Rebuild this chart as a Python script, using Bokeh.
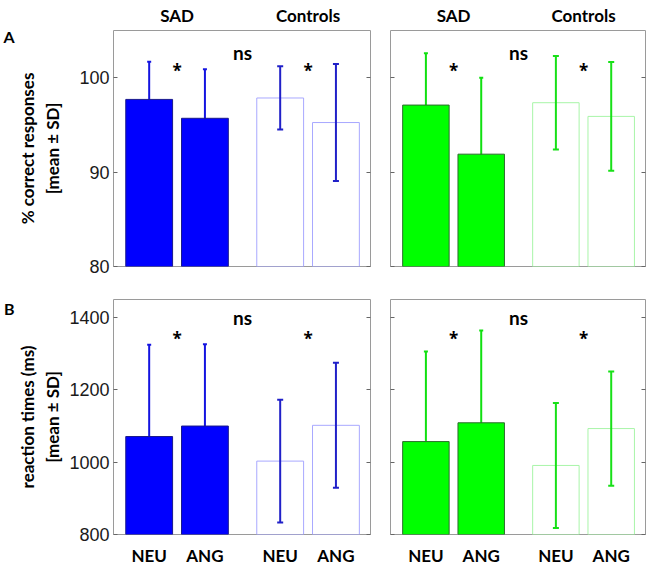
from bokeh.plotting import figure
from bokeh.models import Range1d, FixedTicker, LinearAxis, Label, Whisker, ColumnDataSource, TeeHead
from bokeh.layouts import column, row
from bokeh.embed import file_html
from bokeh.resources import INLINE

# ---- data ----
positions = [1.0, 2.0, 3.35, 4.35]
conditions = ["NEU", "ANG", "NEU", "ANG"]
groups = ["SAD", "Controls"]

acc_blue_mean = [97.7, 95.7, 97.85, 95.25]
acc_blue_sd = [4.0, 5.2, 3.35, 6.2]
acc_green_mean = [97.1, 91.9, 97.35, 95.9]
acc_green_sd = [5.5, 8.1, 4.95, 5.75]

rt_blue_mean = [1071, 1100, 1003, 1102]
rt_blue_sd = [254, 226, 170, 173]
rt_green_mean = [1057, 1109, 991, 1093]
rt_green_sd = [249, 255, 173, 158]

acc_ticks = [80, 90, 100]
rt_ticks = [800, 1000, 1200, 1400]
acc_range = (80, 105)
rt_range = (800, 1450)

BOLD_FONT = "Lato"
STAR_FONT = "Open Sans"
TICK_FONT = "Liberation Sans"

blue = dict(fill="#0000ff", edge="#1a1a8c", ctrl_edge="#a8a8ff", sad_err="#1414e0", ctrl_err="#2020c8")
green = dict(fill="#00ff00", edge="#2d6b2d", ctrl_edge="#a8f5a8", sad_err="#10e010", ctrl_err="#18e018")


def hidden_label_axis(ticks):
    return LinearAxis(ticker=FixedTicker(ticks=ticks), axis_line_color=None,
                      major_tick_in=4, major_tick_out=0, major_tick_line_color="#666666",
                      minor_tick_line_color=None, major_label_text_font_size="1px",
                      major_label_text_color=None, major_label_standoff=0,
                      axis_label_standoff=0)


def make_panel(mean, sd, yr, ticks, col, left, bottom, ylabel=None, ylabel_standoff=20,
               letter=None, letter_y=None, top_groups=False, ns_y=None, star_y=None):
    width = 372 if left else 278
    height = 292 if bottom else 276
    p = figure(width=width, height=height, output_backend="svg", toolbar_location=None,
               x_range=Range1d(0.36, 4.97), y_range=Range1d(*yr),
               x_axis_location="below" if bottom else None,
               y_axis_location="left" if left else None)
    p.min_border_left = 113 if left else 18
    p.min_border_right = 2 if left else 5
    p.min_border_top = 23 if bottom else 30
    p.min_border_bottom = 34 if bottom else 10
    p.xgrid.visible = False
    p.ygrid.visible = False
    p.outline_line_color = "#9a9a9a"
    p.outline_line_width = 1
    p.background_fill_color = "white"
    p.border_fill_color = "white"

    if left:
        ya = p.yaxis[0]
        ya.ticker = FixedTicker(ticks=ticks)
        ya.axis_line_color = None
        ya.major_tick_in = 4
        ya.major_tick_out = 0
        ya.major_tick_line_color = "#666666"
        ya.minor_tick_line_color = None
        ya.major_label_text_font = TICK_FONT
        ya.major_label_text_font_size = "18px"
        ya.major_label_text_color = "#1a1a1a"
        ya.major_label_standoff = 4
        ya.axis_label = ylabel
        ya.axis_label_text_font = BOLD_FONT
        ya.axis_label_text_font_style = "bold"
        ya.axis_label_text_font_size = "17px"
        ya.axis_label_text_color = "black"
        ya.axis_label_standoff = ylabel_standoff
        # panel letter as an outer left axis label
        la = LinearAxis(ticker=FixedTicker(ticks=[letter_y]),
                        major_label_overrides={letter_y: letter},
                        axis_line_color=None, major_tick_line_color=None,
                        minor_tick_line_color=None, major_tick_in=0, major_tick_out=0,
                        major_label_standoff=0, axis_label_standoff=0,
                        major_label_text_font=BOLD_FONT,
                        major_label_text_font_style="bold", major_label_text_font_size="16px",
                        major_label_text_color="black")
        p.add_layout(la, "left")
    else:
        p.add_layout(hidden_label_axis(ticks), "left")

    p.add_layout(hidden_label_axis(ticks), "right")

    g1 = (positions[0] + positions[1]) / 2
    g2 = (positions[2] + positions[3]) / 2
    mid = (positions[1] + positions[2]) / 2

    if bottom:
        xa = p.xaxis[0]
        xa.ticker = FixedTicker(ticks=positions)
        xa.major_label_overrides = {x: c for x, c in zip(positions, conditions)}
        xa.axis_line_color = None
        xa.major_tick_line_color = None
        xa.major_tick_in = 0
        xa.major_tick_out = 0
        xa.minor_tick_line_color = None
        xa.axis_label_standoff = 0
        xa.major_label_text_font = BOLD_FONT
        xa.major_label_text_font_style = "bold"
        xa.major_label_text_font_size = "17px"
        xa.major_label_text_color = "black"
        xa.major_label_standoff = 10

    if top_groups:
        ta = LinearAxis(ticker=FixedTicker(ticks=[g1, g2]),
                        major_label_overrides={g1: groups[0], g2: groups[1]},
                        axis_line_color=None, major_tick_line_color=None,
                        minor_tick_line_color=None, major_tick_in=0, major_tick_out=0,
                        major_label_standoff=5, axis_label_standoff=0,
                        major_label_text_font=BOLD_FONT,
                        major_label_text_font_style="bold", major_label_text_font_size="17px",
                        major_label_text_color="black")
        p.add_layout(ta, "above")

    base = yr[0]
    upper = [m + s for m, s in zip(mean, sd)]
    lower = [m - s for m, s in zip(mean, sd)]

    # SAD whiskers (under filled bars)
    src_sad = ColumnDataSource(dict(base=positions[:2], upper=upper[:2], lower=lower[:2]))
    w1 = Whisker(source=src_sad, base="base", upper="upper", lower="lower",
                 line_color=col["sad_err"], line_width=2, level="underlay",
                 upper_head=TeeHead(size=4, line_color=col["sad_err"], line_width=2),
                 lower_head=TeeHead(size=4, line_color=col["sad_err"], line_width=2))
    p.add_layout(w1)

    p.vbar(x=positions[:2], top=mean[:2], bottom=base, width=0.84,
           fill_color=col["fill"], line_color=col["edge"], line_width=1)
    p.vbar(x=positions[2:], top=mean[2:], bottom=base, width=0.84,
           fill_color=None, line_color=col["ctrl_edge"], line_width=1)

    src_ctrl = ColumnDataSource(dict(base=positions[2:], upper=upper[2:], lower=lower[2:]))
    w2 = Whisker(source=src_ctrl, base="base", upper="upper", lower="lower",
                 line_color=col["ctrl_err"], line_width=2, level="annotation",
                 upper_head=TeeHead(size=6, line_color=col["ctrl_err"], line_width=2),
                 lower_head=TeeHead(size=6, line_color=col["ctrl_err"], line_width=2))
    p.add_layout(w2)

    p.add_layout(Label(x=mid, y=ns_y, text="ns", text_align="center", text_baseline="middle",
                       text_font=BOLD_FONT, text_font_style="bold", text_font_size="19px",
                       text_color="black"))
    for gx in [g1, g2]:
        p.add_layout(Label(x=gx, y=star_y, text="*", text_align="center", text_baseline="middle",
                           text_font=STAR_FONT, text_font_style="bold", text_font_size="17px",
                           text_color="black"))
    return p


pAL = make_panel(acc_blue_mean, acc_blue_sd, acc_range, acc_ticks, blue, True, False,
                 ylabel="% correct responses\n[mean \u00b1 SD]", ylabel_standoff=13,
                 letter="A", letter_y=104.4, top_groups=True, ns_y=102.65, star_y=100.8)
pAR = make_panel(acc_green_mean, acc_green_sd, acc_range, acc_ticks, green, False, False,
                 top_groups=True, ns_y=102.65, star_y=100.8)
pBL = make_panel(rt_blue_mean, rt_blue_sd, rt_range, rt_ticks, blue, True, True,
                 ylabel="reaction times (ms)\n[mean \u00b1 SD]", ylabel_standoff=3,
                 letter="B", letter_y=1425, ns_y=1401, star_y=1343)
pBR = make_panel(rt_green_mean, rt_green_sd, rt_range, rt_ticks, green, False, True,
                 ns_y=1401, star_y=1343)

layout = column(row(pAL, pAR), row(pBL, pBR))
open("out.html", "w").write(file_html(layout, INLINE))
